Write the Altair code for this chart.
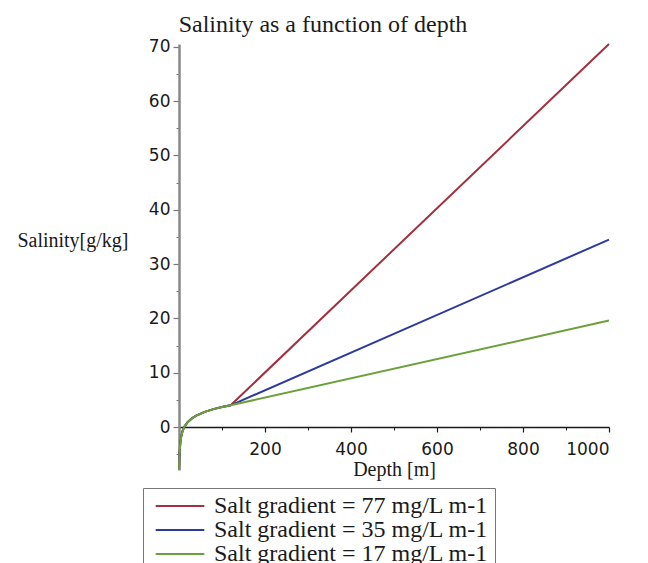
import altair as alt
import pandas as pd

series = [
    "Salt gradient = 77 mg/L m-1",
    "Salt gradient = 35 mg/L m-1",
    "Salt gradient = 17 mg/L m-1",
]
colors = ["#A3303F", "#2D3A9B", "#6CA03A"]

# shared near-surface curve (depth in m, salinity in g/kg)
depth_curve = [0.1, 0.5, 1, 2, 3, 5, 8, 12, 20, 30, 40, 60, 80, 100, 120]
sal_curve = [-7.9, -6.5, -5.5, -4.0, -3.0, -1.8, -0.8, 0.0, 0.9, 1.6, 2.1, 2.8, 3.3, 3.7, 4.0]
# end points of the linear parts
end_depth = 1000
end_salinity = [70.5, 34.5, 19.6]

x_major = [200, 400, 600, 800, 1000]
x_minor = [100, 300, 500, 700, 900]
y_major = [0, 10, 20, 30, 40, 50, 60, 70]
y_minor = [-5, 5, 15, 25, 35, 45, 55, 65]

rows = []
for s, e in zip(series, end_salinity):
    for d, v in zip(depth_curve, sal_curve):
        rows.append({"series": s, "depth": d, "salinity": v})
    rows.append({"series": s, "depth": end_depth, "salinity": e})
df = pd.DataFrame(rows)

W, H = 430, 426
ymin, ymax = -7.9, 70.5
xoff = -round(H * (0 - ymin) / (ymax - ymin))

xs = alt.Scale(domain=[0, 1000], nice=False, zero=False)
ys = alt.Scale(domain=[ymin, ymax], nice=False, zero=False)

tick_font = "DejaVu Sans"
serif = "Liberation Serif"

x_axis = alt.Axis(values=x_major, orient="bottom", offset=xoff, grid=False, format="d",
                  domainColor="#1a1a1a", domainWidth=1.5, tickColor="#1a1a1a",
                  tickSize=5, tickWidth=1.2, labelFont=tick_font, labelFontSize=17,
                  labelColor="#1a1a1a", labelPadding=9, title="Depth [m]",
                  titleFont=serif, titleFontSize=20, titleFontWeight="normal",
                  titleColor="#1a1a1a", titlePadding=2)
y_axis = alt.Axis(values=y_major, orient="left", grid=False,
                  domainColor="#888888", domainWidth=2.5, tickColor="#777777",
                  tickSize=6, tickWidth=1.2, labelFont=tick_font, labelFontSize=17,
                  labelColor="#1a1a1a", labelPadding=3, title="Salinity[g/kg]",
                  titleAngle=0, titleAlign="right", titleBaseline="middle",
                  titleX=-51, titleY=196, titleFont=serif, titleFontSize=20,
                  titleFontWeight="normal", titleColor="#1a1a1a")

legend = alt.Legend(title=None, orient="none", legendX=-36, legendY=444,
                    symbolType="M-4.5,0H4.5", symbolSize=117, symbolStrokeWidth=2.2,
                    symbolOffset=19, labelOffset=22, labelFont=serif,
                    labelFontSize=24, labelColor="#1a1a1a", labelLimit=600,
                    rowPadding=-3, padding=6, strokeColor="#777777",
                    fillColor="white")

color = alt.Color("series:N", scale=alt.Scale(domain=series, range=colors),
                  legend=legend)

base = alt.Chart(df)

minor = base.mark_line(strokeOpacity=0).encode(
    x=alt.X("depth:Q", scale=xs,
            axis=alt.Axis(values=x_minor, orient="bottom", offset=xoff, grid=False,
                          labels=False, domain=False, tickSize=3,
                          tickColor="#1a1a1a", title=None)),
    y=alt.Y("salinity:Q", scale=ys,
            axis=alt.Axis(values=y_minor, orient="left", grid=False, labels=False,
                          domain=False, tickSize=3, tickColor="#777777",
                          title=None)),
    detail="series:N",
)

layers = [minor]
for i, s in enumerate(series):
    layers.append(
        base.transform_filter(alt.datum.series == s).mark_line(strokeWidth=2).encode(
            x=alt.X("depth:Q", scale=xs, axis=x_axis if i == 0 else None),
            y=alt.Y("salinity:Q", scale=ys, axis=y_axis if i == 0 else None),
            color=color,
        )
    )

chart = alt.layer(*layers).resolve_axis(x="independent", y="independent").properties(
    width=W, height=H,
    title=alt.TitleParams("Salinity as a function of depth", font=serif,
                          fontSize=24, fontWeight="normal", color="#1a1a1a",
                          anchor="middle", dx=-71, dy=30, offset=12,
                          baseline="alphabetic"),
    autosize=alt.AutoSizeParams(type="none"),
    padding={"left": 171, "top": 36, "right": 30, "bottom": 95},
).configure_view(stroke=None)

chart.save("out.html", embed_options={"renderer": "svg", "actions": False})
